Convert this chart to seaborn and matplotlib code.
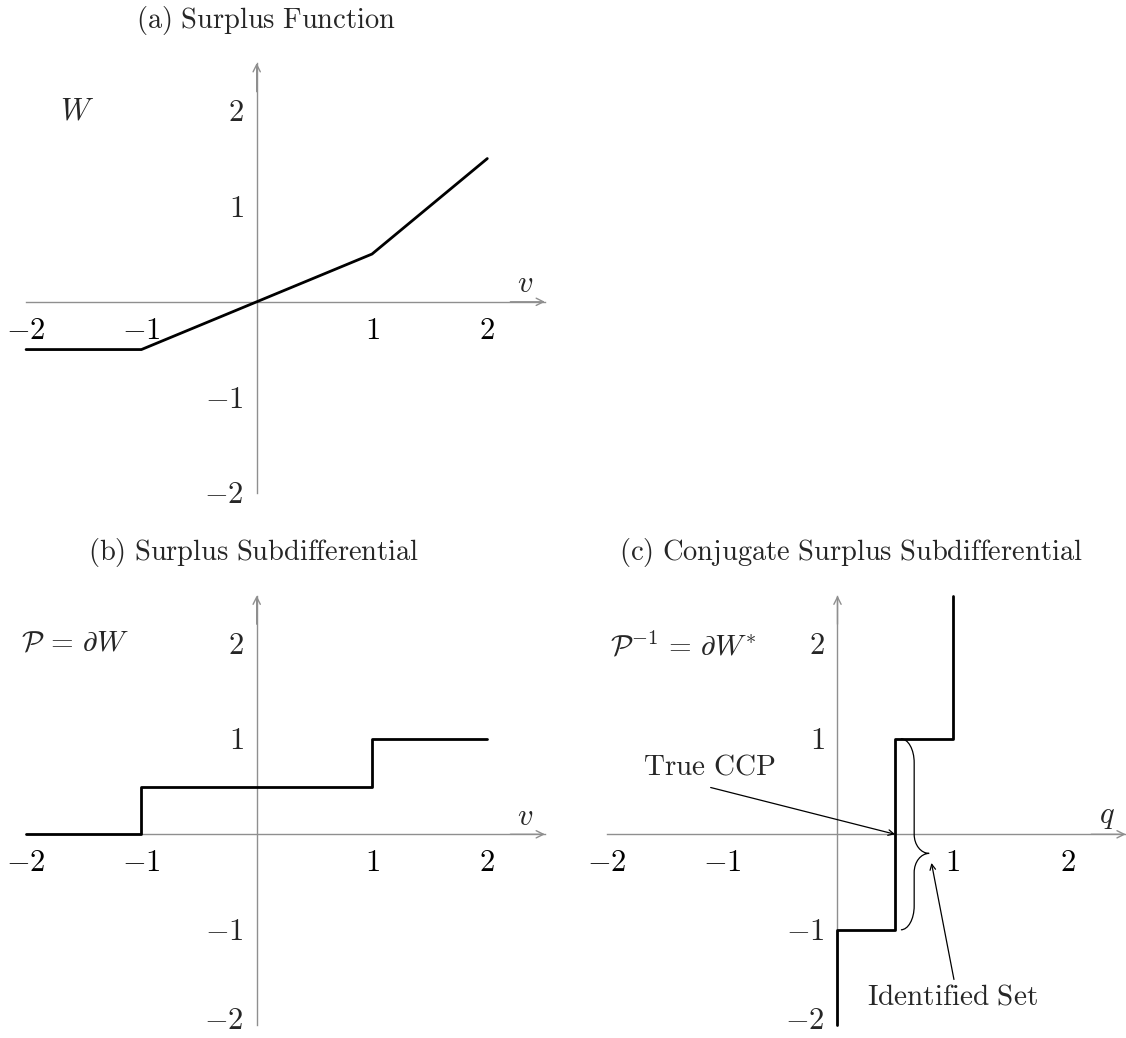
import numpy as np
import pandas as pd
import matplotlib
matplotlib.use("Agg")
import matplotlib.pyplot as plt
from matplotlib.path import Path
from matplotlib.patches import PathPatch
from matplotlib.transforms import ScaledTranslation
import seaborn as sns

# ---------------- data ----------------
ticks = [-2, -1, 1, 2]
tick_labels = ["$-2$", "$-1$", "$1$", "$2$"]

# (a) surplus function W(v)
a_v = [-2, -1, 1, 2]
a_w = [-0.5, -0.5, 0.5, 1.5]

# (b) subdifferential P = dW
b_v = [-2, -1, -1, 1, 1, 2]
b_p = [0, 0, 0.5, 0.5, 1, 1]

# (c) conjugate subdifferential P^-1 = dW*
c_q = [0, 0, 0.5, 0.5, 1, 1]
c_v = [-2, -1, -1, 1, 1, 2.5]

true_ccp = 0.5
id_low, id_high = -1, 1

# ---------------- style ----------------
sns.set_style("white")
plt.rcParams["mathtext.fontset"] = "cm"
plt.rcParams["font.family"] = ["DejaVu Serif"]

GRAY = "#8f8f8f"
W_PX, H_PX = 1126, 1038
SX, SY = 115.3, 95.5
XLIM = (-2.2, 2.6)
YLIM = (-2.1, 2.6)
FS = 21
TFS = 22

fig = plt.figure(figsize=(W_PX / 100, H_PX / 100), dpi=100)


def make_ax(ox, oy, bottom_row=False):
    left = ox + XLIM[0] * SX
    right = ox + XLIM[1] * SX
    top = oy - YLIM[1] * SY
    bottom = oy - YLIM[0] * SY
    ax = fig.add_axes([left / W_PX, 1 - bottom / H_PX,
                       (right - left) / W_PX, (bottom - top) / H_PX])
    ax.set_xlim(*XLIM)
    ax.set_ylim(*YLIM)
    ax.set_facecolor("none")
    for s in ["top", "right"]:
        ax.spines[s].set_visible(False)
    for s in ["left", "bottom"]:
        ax.spines[s].set_position(("data", 0))
        ax.spines[s].set_bounds(-2, 2.5)
        ax.spines[s].set_color(GRAY)
        ax.spines[s].set_linewidth(1.0)
        ax.spines[s].set_zorder(1)
    ax.set_xticks(ticks, labels=tick_labels)
    ax.set_yticks(ticks, labels=["" for _ in ticks])
    ax.tick_params(axis="both", direction="inout", length=8.6, width=1.0,
                   color=GRAY, labelsize=TFS, labelcolor="black")
    ax.tick_params(axis="x", pad=5.0)
    # y tick labels as text, baseline-aligned so glyphs sit centred on ticks
    off = ScaledTranslation(-13 / 100, 0, fig.dpi_scale_trans)
    for t, lab in zip(ticks, tick_labels):
        dy = 0.07 if (bottom_row and t == -2) else 0.0
        ax.text(0, t - 0.112 + dy, lab, fontsize=TFS, ha="right",
                va="baseline", transform=ax.transData + off)
    arrow = dict(arrowstyle="->", color=GRAY, lw=1.0, shrinkA=0, shrinkB=0,
                 mutation_scale=13)
    ax.annotate("", xy=(2.5, 0), xytext=(2.2, 0), arrowprops=arrow, zorder=1)
    ax.annotate("", xy=(0, 2.5), xytext=(0, 2.2), arrowprops=arrow, zorder=1)
    ax.grid(False)
    return ax


ax_a = make_ax(256.7, 301.8)
ax_b = make_ax(256.7, 834.3, bottom_row=True)
ax_c = make_ax(837.5, 834.3, bottom_row=True)

LW = 2.0
sns.lineplot(data=pd.DataFrame({"v": a_v, "W": a_w}), x="v", y="W",
             sort=False, estimator=None, color="black", lw=LW, ax=ax_a,
             zorder=4)
sns.lineplot(data=pd.DataFrame({"v": b_v, "P": b_p}), x="v", y="P",
             sort=False, estimator=None, color="black", lw=LW, ax=ax_b,
             zorder=4)
sns.lineplot(data=pd.DataFrame({"q": c_q, "v": c_v}), x="q", y="v",
             sort=False, estimator=None, color="black", lw=LW, ax=ax_c,
             zorder=4)
for ax in (ax_a, ax_b, ax_c):
    ax.set_xlabel("")
    ax.set_ylabel("")

# axis / function labels
ax_a.text(2.33, 0.19, r"$v$", fontsize=FS + 1, ha="center", va="center")
ax_b.text(2.33, 0.19, r"$v$", fontsize=FS + 1, ha="center", va="center")
ax_c.text(2.34, 0.20, r"$q$", fontsize=FS + 1, ha="center", va="center")
ax_a.text(-1.56, 2.0, r"$W$", fontsize=FS + 1, ha="center", va="center")
ax_b.text(-1.58, 2.0, r"$\mathcal{P}\,=\,\partial W$", fontsize=FS,
          ha="center", va="center")
ax_c.text(-1.34, 1.97, r"$\mathcal{P}^{-1}\,=\,\partial W^{*}$", fontsize=FS,
          ha="center", va="center")

# brace for identified set
x0 = true_ccp + 0.05
a = 0.245
h = 0.115
r = 0.25
r2 = 0.2
ym = id_high - 0.6 * (id_high - id_low)
xm = x0 + h
tip = x0 + a
k = 0.552
verts = [
    (x0, id_high),
    (x0 + k * h, id_high), (xm, id_high - r + k * r), (xm, id_high - r),
    (xm, ym + r2),
    (xm, ym + r2 - k * r2), (tip - k * (a - h), ym), (tip, ym),
    (tip - k * (a - h), ym), (xm, ym - r2 + k * r2), (xm, ym - r2),
    (xm, id_low + r),
    (xm, id_low + r - k * r), (x0 + k * h, id_low), (x0, id_low),
]
codes = [Path.MOVETO,
         Path.CURVE4, Path.CURVE4, Path.CURVE4,
         Path.LINETO,
         Path.CURVE4, Path.CURVE4, Path.CURVE4,
         Path.CURVE4, Path.CURVE4, Path.CURVE4,
         Path.LINETO,
         Path.CURVE4, Path.CURVE4, Path.CURVE4]
ax_c.add_patch(PathPatch(Path(verts, codes), fill=False, ec="black", lw=0.9,
                         zorder=5))

thin = dict(arrowstyle="->", color="black", lw=0.9, shrinkA=0, shrinkB=0,
            mutation_scale=10)
ax_c.annotate("", xy=(true_ccp, 0), xytext=(-1.10, 0.49), arrowprops=thin,
              zorder=5)
ax_c.text(-1.11, 0.71, r"$\mathrm{True\ CCP}$", fontsize=FS,
          ha="center", va="center")
ax_c.annotate("", xy=(tip + 0.02, ym - 0.1), xytext=(1.01, -1.52),
              arrowprops=thin, zorder=5)
ax_c.text(1.0, -1.70, r"$\mathrm{Identified\ Set}$", fontsize=FS,
          ha="center", va="center")

# titles
fig.text(266 / W_PX, 1 - 28 / H_PX, r"$\mathrm{(a)\ Surplus\ Function}$",
         fontsize=20.5, ha="center", va="baseline")
fig.text(254 / W_PX, 1 - 560 / H_PX, r"$\mathrm{(b)\ Surplus\ Subdifferential}$",
         fontsize=20.5, ha="center", va="baseline")
fig.text(851 / W_PX, 1 - 560 / H_PX,
         r"$\mathrm{(c)\ Conjugate\ Surplus\ Subdifferential}$",
         fontsize=20.5, ha="center", va="baseline")

fig.savefig("out.png", dpi=100)
